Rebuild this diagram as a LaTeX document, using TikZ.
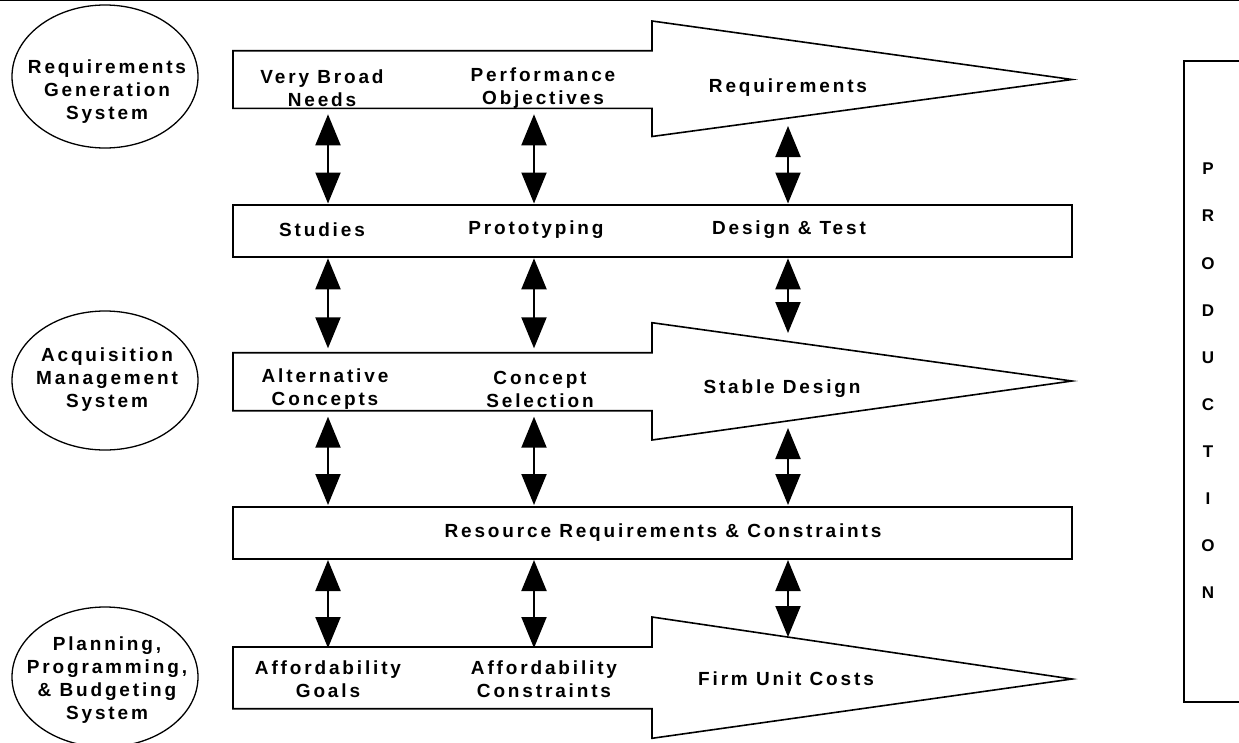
\documentclass[tikz,border=0pt]{standalone}
\usepackage{fontspec}
\setmainfont{Liberation Sans}
\newfontfamily\lblfont{Liberation Sans}[LetterSpace=15]
\usetikzlibrary{arrows.meta,shapes.geometric}
\begin{document}
\begin{tikzpicture}[x=1pt,y=-1pt,
  lbl/.style={font=\lblfont\bfseries\fontsize{19}{23}\selectfont, align=center, inner sep=0pt},
  prodletter/.style={font=\bfseries\fontsize{17}{20}\selectfont, inner sep=0pt},
  flowbox/.style={draw, line width=2pt, minimum width=839pt, minimum height=52pt, inner sep=0pt},
  bigarrow/.style={draw, line width=1.6pt, line join=miter},
  sysellipse/.style={draw, ellipse, line width=1.3pt, minimum width=186pt, inner sep=0pt},
  dbl/.style={line width=2pt, {Triangle[length=31pt,width=25pt]}-{Triangle[length=31pt,width=25pt]}}]
\useasboundingbox (0,0) rectangle (1239,742);
\clip (0,0) rectangle (1239,742);

% top rule
\coordinate (tl) at (0,0.6);
\coordinate (tr) at (1239,0.6);
\draw[line width=1.2pt] (tl) -- (tr);

% ellipses
\node[sysellipse, minimum height=143pt] (e1) at (105,76.5) {};
\node[sysellipse, minimum height=139pt] (e2) at (105,380.5) {};
\node[sysellipse, minimum height=140pt] (e3) at (105,677) {};
\node[lbl] (e1t) at (107,92) {Requirements\\Generation\\System};
\node[lbl] (e2t) at (107,380) {Acquisition\\Management\\System};
\node[lbl] (e3t) at (107,680) {Planning,\\Programming,\\\& Budgeting\\System};

% big arrows
\coordinate (a1a) at (233,50.7); \coordinate (a1b) at (652,50.7); \coordinate (a1c) at (652,21);
\coordinate (a1d) at (1072,79.5); \coordinate (a1e) at (652,136.5); \coordinate (a1f) at (652,108.3);
\coordinate (a1g) at (233,108.3);
\draw[bigarrow] (a1a) -- (a1b) -- (a1c) -- (a1d) -- (a1e) -- (a1f) -- (a1g) -- cycle;

\coordinate (a2a) at (233,352.7); \coordinate (a2b) at (652,352.7); \coordinate (a2c) at (652,322.7);
\coordinate (a2d) at (1072,381); \coordinate (a2e) at (652,440); \coordinate (a2f) at (652,410.7);
\coordinate (a2g) at (233,410.7);
\draw[bigarrow] (a2a) -- (a2b) -- (a2c) -- (a2d) -- (a2e) -- (a2f) -- (a2g) -- cycle;

\coordinate (a3a) at (233,647); \coordinate (a3b) at (652,647); \coordinate (a3c) at (652,617);
\coordinate (a3d) at (1072,679); \coordinate (a3e) at (652,738.3); \coordinate (a3f) at (652,708.7);
\coordinate (a3g) at (233,708.7);
\draw[bigarrow] (a3a) -- (a3b) -- (a3c) -- (a3d) -- (a3e) -- (a3f) -- (a3g) -- cycle;

% boxes
\node[flowbox] (studies) at (652.5,231) {};
\node[flowbox] (resource) at (652.5,533) {};

% production box
\node[draw, line width=2pt, minimum width=61pt, minimum height=641pt, inner sep=0pt] (prod) at (1214.5,381.5) {};
\foreach \L [count=\i from 0] in {P,R,O,D,U,C,T,I,O,N}
  \node[prodletter] (p\i) at (1208,169+47.1*\i) {\L};

% labels row 1
\node[lbl] (t11) at (322,88) {Very Broad\\Needs};
\node[lbl] (t12) at (543,88) {Performance\\Objectives};
\node[lbl] (t13) at (788,88) {Requirements};
% row 2
\node[lbl] (t21) at (322,230) {Studies};
\node[lbl] (t22) at (536,230) {Prototyping};
\node[lbl] (t23) at (789,230) {Design \& Test};
% row 3
\node[lbl] (t31) at (325,389) {Alternative\\Concepts};
\node[lbl] (t32) at (540,389) {Concept\\Selection};
\node[lbl] (t33) at (782,389) {Stable Design};
% row 4
\node[lbl] (t41) at (663,533) {Resource Requirements \& Constraints};
% row 5
\node[lbl] (t51) at (328,679) {Affordability\\Goals};
\node[lbl] (t52) at (544,679) {Affordability\\Constraints};
\node[lbl] (t53) at (786,679) {Firm Unit Costs};

% double arrows
\foreach \x/\c in {328/a,534/b} {
  \coordinate (\c1t) at (\x,114.3); \coordinate (\c1b) at (\x,203.5);
  \coordinate (\c2t) at (\x,258.3); \coordinate (\c2b) at (\x,348.3);
  \coordinate (\c3t) at (\x,416.7); \coordinate (\c3b) at (\x,505);
  \coordinate (\c4t) at (\x,560);   \coordinate (\c4b) at (\x,648);
}
\coordinate (c1t) at (788,126);   \coordinate (c1b) at (788,203.5);
\coordinate (c2t) at (788,258.3); \coordinate (c2b) at (788,333);
\coordinate (c3t) at (788,428);   \coordinate (c3b) at (788,505);
\coordinate (c4t) at (788,560);   \coordinate (c4b) at (788,637);
\foreach \c in {a,b,c} {
  \foreach \r in {1,2,3,4} {
    \draw[dbl] (\c\r t) -- (\c\r b);
  }
}
\end{tikzpicture}
\end{document}
